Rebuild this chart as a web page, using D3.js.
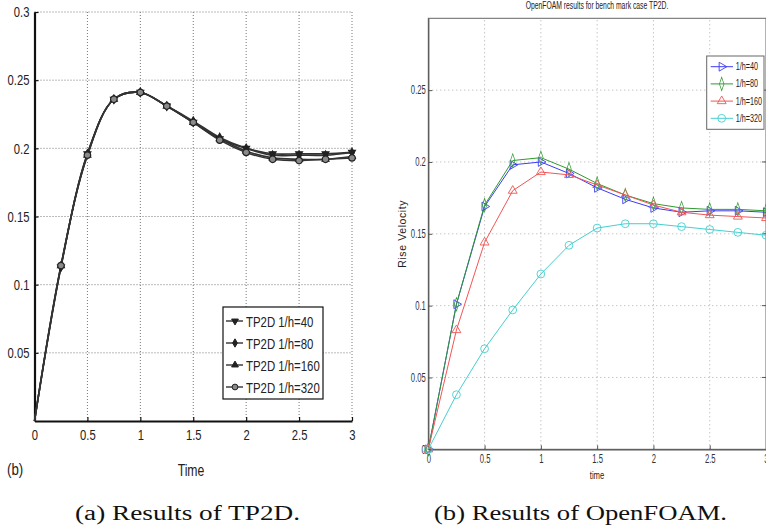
<!DOCTYPE html>
<html>
<head>
<meta charset="utf-8">
<script src="https://cdn.jsdelivr.net/npm/d3@7"></script>
<style>
  body { margin: 0; background: #fff; }
  svg { display: block; }
</style>
</head>
<body>
<script>
// ---- data ----
var timeSteps = [0, 0.25, 0.5, 0.75, 1, 1.25, 1.5, 1.75, 2, 2.25, 2.5, 2.75, 3];

// (a) TP2D
var tpNames = ["TP2D 1/h=40", "TP2D 1/h=80", "TP2D 1/h=160", "TP2D 1/h=320"];
var tp40  = [0, 0.113, 0.196, 0.236, 0.241, 0.231, 0.219, 0.207, 0.200, 0.196, 0.196, 0.196, 0.197];
var tp80  = [0, 0.113, 0.196, 0.236, 0.241, 0.231, 0.220, 0.208, 0.200, 0.195, 0.195, 0.195, 0.197];
var tp160 = [0, 0.114, 0.195, 0.236, 0.241, 0.231, 0.219, 0.207, 0.198, 0.193, 0.192, 0.192, 0.194];
var tp320 = [0, 0.114, 0.195, 0.236, 0.241, 0.231, 0.219, 0.206, 0.197, 0.192, 0.191, 0.192, 0.193];

// (b) OpenFOAM
var ofNames = ["1/h=40", "1/h=80", "1/h=160", "1/h=320"];
var of40  = [0, 0.101, 0.169, 0.198, 0.200, 0.192, 0.182, 0.174, 0.168, 0.165, 0.166, 0.166, 0.165];
var of80  = [0, 0.101, 0.170, 0.201, 0.203, 0.195, 0.185, 0.177, 0.171, 0.168, 0.167, 0.167, 0.166];
var of160 = [0, 0.083, 0.144, 0.180, 0.193, 0.191, 0.184, 0.177, 0.170, 0.165, 0.163, 0.162, 0.161];
var of320 = [0, 0.038, 0.070, 0.097, 0.122, 0.142, 0.154, 0.157, 0.157, 0.155, 0.153, 0.151, 0.149];

var xTicks = [0, 0.5, 1, 1.5, 2, 2.5, 3];
var tpYTicks = [0.05, 0.1, 0.15, 0.2, 0.25, 0.3];
var ofYTicks = [0, 0.05, 0.1, 0.15, 0.2, 0.25];

var sans = "'Liberation Sans', Arial, sans-serif";
var serif = "'Liberation Serif', 'DejaVu Serif', serif";

var svg = d3.select("body").append("svg")
  .attr("width", 766)
  .attr("height", 531);

svg.append("rect").attr("width", 766).attr("height", 531).attr("fill", "#fff");

function fmt(d) { return String(d); }

// condensed text: the originals use a narrow face, so squeeze Liberation Sans
function ntext(parent, x, y, str, size, sx, anchor) {
  return parent.append("text")
    .attr("transform", "translate(" + x + "," + y + ") scale(" + sx + ",1)")
    .attr("text-anchor", anchor || "start")
    .attr("font-family", sans)
    .attr("font-size", size)
    .attr("fill", "#222")
    .text(str);
}
function squeezeTicks(ax, size, sx) {
  ax.selectAll("text")
    .attr("font-family", sans)
    .attr("font-size", size)
    .attr("x", function() { return (+d3.select(this).attr("x") || 0) / sx; })
    .attr("transform", "scale(" + sx + ",1)");
}

// =============== (a) TP2D ===============
var xA = d3.scaleLinear().domain([0, 3]).range([34.5, 352]);
var yA = d3.scaleLinear().domain([0, 0.3]).range([421, 12]);

var gA = svg.append("g");

// dotted grid
gA.selectAll(".vgrid").data(xTicks.slice(1)).enter().append("line")
  .attr("x1", function(d) { return xA(d); })
  .attr("x2", function(d) { return xA(d); })
  .attr("y1", yA(0))
  .attr("y2", yA(0.3))
  .attr("stroke", "#777")
  .attr("stroke-width", 1)
  .attr("stroke-dasharray", "1,2");
gA.selectAll(".hgrid").data(tpYTicks).enter().append("line")
  .attr("x1", xA(0))
  .attr("x2", xA(3))
  .attr("y1", function(d) { return yA(d); })
  .attr("y2", function(d) { return yA(d); })
  .attr("stroke", "#777")
  .attr("stroke-width", 1)
  .attr("stroke-dasharray", "1,2");

var axA_x = gA.append("g")
  .attr("transform", "translate(0," + yA(0) + ")")
  .call(d3.axisBottom(xA).tickValues(xTicks).tickFormat(fmt).tickSizeInner(-4).tickSizeOuter(0).tickPadding(8));
var axA_y = gA.append("g")
  .attr("transform", "translate(" + xA(0) + ",0)")
  .call(d3.axisLeft(yA).tickValues(tpYTicks).tickFormat(fmt).tickSizeInner(-4).tickSizeOuter(0).tickPadding(5));
[axA_x, axA_y].forEach(function(ax) {
  ax.select(".domain").attr("stroke", "#111").attr("stroke-width", 2.2);
  ax.selectAll(".tick line").attr("stroke", "#111").attr("stroke-width", 1.2);
  ax.selectAll("text").attr("fill", "#222");
  squeezeTicks(ax, 15, 0.75);
});

var tpSeries = [tp40, tp80, tp160, tp320];
var tpShapes = [d3.symbolTriangle, d3.symbolDiamond, d3.symbolTriangle, d3.symbolCircle];
var tpRot = [180, 0, 0, 0];

var lineA = d3.line()
  .x(function(d, i) { return xA(timeSteps[i]); })
  .y(function(d) { return yA(d); })
  .curve(d3.curveCatmullRom);

gA.selectAll(".tpline").data(tpSeries).enter().append("path")
  .attr("d", function(d) { return lineA(d); })
  .attr("fill", "none")
  .attr("stroke", "#333")
  .attr("stroke-width", 1.6);

tpSeries.forEach(function(s, k) {
  gA.selectAll(".tpm" + k).data(s.slice(1)).enter().append("path")
    .attr("d", d3.symbol().type(tpShapes[k]).size(k === 3 ? 34 : 20))
    .attr("transform", function(d, i) {
      return "translate(" + xA(timeSteps[i + 1]) + "," + yA(d) + ") rotate(" + tpRot[k] + ")";
    })
    .attr("fill", k === 3 ? "#8a8a8a" : "#222")
    .attr("stroke", "#222")
    .attr("stroke-width", 1.2);
});

// legend (a)
var legA = gA.append("g");
legA.append("rect")
  .attr("x", 223).attr("y", 307).attr("width", 100).attr("height", 92)
  .attr("fill", "#fff").attr("stroke", "#111").attr("stroke-width", 1.2);
tpNames.forEach(function(name, k) {
  var ly = 321 + k * 22;
  legA.append("line").attr("x1", 226).attr("x2", 243).attr("y1", ly).attr("y2", ly)
    .attr("stroke", "#333").attr("stroke-width", 1.4);
  legA.append("path")
    .attr("d", d3.symbol().type(tpShapes[k]).size(k === 3 ? 26 : 20))
    .attr("transform", "translate(235," + ly + ") rotate(" + tpRot[k] + ")")
    .attr("fill", k === 3 ? "#8a8a8a" : "#222").attr("stroke", "#222").attr("stroke-width", 1);
  ntext(legA, 246, ly + 5.5, name, 15, 0.76);
});

ntext(gA, 191, 476, "Time", 17, 0.72, "middle");
ntext(gA, 7, 475, "(b)", 17, 0.78);

// =============== (b) OpenFOAM ===============
var xB = d3.scaleLinear().domain([0, 3]).range([428.3, 766]);
var yB = d3.scaleLinear().domain([0, 0.3]).range([449.3, 18.3]);

var gB = svg.append("g");

gB.selectAll(".vgrid").data(xTicks.slice(1, -1)).enter().append("line")
  .attr("x1", function(d) { return xB(d); })
  .attr("x2", function(d) { return xB(d); })
  .attr("y1", yB(0))
  .attr("y2", yB(0.3))
  .attr("stroke", "#999")
  .attr("stroke-width", 0.8)
  .attr("stroke-dasharray", "1,3");
gB.selectAll(".hgrid").data(ofYTicks.slice(1)).enter().append("line")
  .attr("x1", xB(0))
  .attr("x2", xB(3))
  .attr("y1", function(d) { return yB(d); })
  .attr("y2", function(d) { return yB(d); })
  .attr("stroke", "#999")
  .attr("stroke-width", 0.8)
  .attr("stroke-dasharray", "1,3");

// box
gB.append("rect")
  .attr("x", xB(0)).attr("y", yB(0.3))
  .attr("width", xB(3) - xB(0)).attr("height", yB(0) - yB(0.3))
  .attr("fill", "none").attr("stroke", "#666").attr("stroke-width", 1);

var axB_x = gB.append("g")
  .attr("transform", "translate(0," + yB(0) + ")")
  .call(d3.axisBottom(xB).tickValues(xTicks).tickFormat(fmt).tickSizeInner(-4).tickSizeOuter(0).tickPadding(5));
var axB_y = gB.append("g")
  .attr("transform", "translate(" + xB(0) + ",0)")
  .call(d3.axisLeft(yB).tickValues(ofYTicks).tickFormat(fmt).tickSizeInner(-4).tickSizeOuter(0).tickPadding(2.5));
[axB_x, axB_y].forEach(function(ax) {
  ax.select(".domain").attr("stroke", "#555").attr("stroke-width", 1.2);
  ax.selectAll(".tick line").attr("stroke", "#555");
  ax.selectAll("text").attr("fill", "#333");
  squeezeTicks(ax, 12, 0.64);
});
// right-side ticks
gB.selectAll(".rtick").data(ofYTicks.slice(1)).enter().append("line")
  .attr("x1", xB(3)).attr("x2", xB(3) - 4)
  .attr("y1", function(d) { return yB(d); })
  .attr("y2", function(d) { return yB(d); })
  .attr("stroke", "#555");

var ofSeries = [of40, of80, of160, of320];
var ofColors = ["#3c3cf5", "#2f9a2f", "#f25555", "#45cfcf"];
var ofShapes = [d3.symbolTriangle, d3.symbolDiamond, d3.symbolTriangle, d3.symbolCircle];
var ofRot = [90, 0, 0, 0];
var ofSize = [34, 36, 34, 48];

var lineB = d3.line()
  .x(function(d, i) { return xB(timeSteps[i]); })
  .y(function(d) { return yB(d); });

ofSeries.forEach(function(s, k) {
  gB.append("path")
    .attr("d", lineB(s))
    .attr("fill", "none")
    .attr("stroke", ofColors[k])
    .attr("stroke-width", 1);
  gB.selectAll(".ofm" + k).data(s).enter().append("path")
    .attr("d", d3.symbol().type(ofShapes[k]).size(ofSize[k]))
    .attr("transform", function(d, i) {
      return "translate(" + xB(timeSteps[i]) + "," + yB(d) + ") rotate(" + ofRot[k] + ")" + (k === 1 ? " scale(0.7,1.2)" : "");
    })
    .attr("fill", "none")
    .attr("stroke", ofColors[k])
    .attr("stroke-width", 0.9);
});

// legend (b)
var legB = gB.append("g");
legB.append("rect")
  .attr("x", 706.7).attr("y", 56).attr("width", 57.3).attr("height", 73.3)
  .attr("fill", "#fff").attr("stroke", "#666").attr("stroke-width", 1);
ofNames.forEach(function(name, k) {
  var ly = 66.7 + k * 17.2;
  legB.append("line").attr("x1", 710.7).attr("x2", 733).attr("y1", ly).attr("y2", ly)
    .attr("stroke", ofColors[k]).attr("stroke-width", 1);
  legB.append("path")
    .attr("d", d3.symbol().type(ofShapes[k]).size(ofSize[k]))
    .attr("transform", "translate(721.7," + ly + ") rotate(" + ofRot[k] + ")" + (k === 1 ? " scale(0.7,1.2)" : ""))
    .attr("fill", "none").attr("stroke", ofColors[k]).attr("stroke-width", 0.9);
  ntext(legB, 735.7, ly + 3.5, name, 10, 0.72);
});

ntext(gB, 597, 9, "OpenFOAM results for bench mark case TP2D.", 10, 0.68, "middle");
ntext(gB, 597, 479, "time", 11, 0.7, "middle");
gB.append("text")
  .attr("transform", "translate(406," + ((yB(0) + yB(0.3)) / 2) + ") rotate(-90)")
  .attr("text-anchor", "middle")
  .attr("font-family", sans).attr("font-size", 10.5)
  .attr("letter-spacing", 0.6).attr("fill", "#222").text("Rise Velocity");

// captions
svg.append("text").attr("x", 75).attr("y", 520)
  .attr("font-family", serif).attr("font-size", 20).attr("fill", "#111")
  .attr("textLength", 225).attr("lengthAdjust", "spacingAndGlyphs")
  .text("(a) Results of TP2D.");
svg.append("text").attr("x", 434).attr("y", 520)
  .attr("font-family", serif).attr("font-size", 20).attr("fill", "#111")
  .attr("textLength", 293).attr("lengthAdjust", "spacingAndGlyphs")
  .text("(b) Results of OpenFOAM.");
</script>
</body>
</html>
